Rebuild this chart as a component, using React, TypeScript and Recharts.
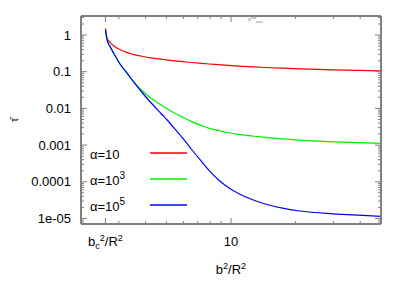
import React from "react";
import { LineChart, Line, XAxis, YAxis, Legend } from "recharts";

// b^2/R^2 sample points (shared by all series)
const bSquared = [
  2.6, 2.645, 2.74, 2.84, 3.05, 3.29, 3.41, 3.8, 4.23, 4.72, 5.09, 5.43, 6.06,
  6.53, 7.29, 7.86, 8.76, 9.35, 10.42, 12.53, 14.44, 17.37, 20.9, 29.9, 39.2, 50,
];
// tau-bar for alpha = 10
const tauAlpha1 = [
  1.523, 0.813, 0.621, 0.511, 0.395, 0.331, 0.309, 0.268, 0.239, 0.219, 0.207,
  0.198, 0.186, 0.178, 0.168, 0.162, 0.155, 0.151, 0.145, 0.136, 0.13, 0.1245,
  0.12, 0.1127, 0.1085, 0.1045,
];
// tau-bar for alpha = 10^3
const tauAlpha3 = [
  1.368, 0.754, 0.471, 0.317, 0.157, 0.0887, 0.0673, 0.0327, 0.0192, 0.01238,
  0.00945, 0.00763, 0.00548, 0.00442, 0.0034, 0.0029, 0.0025, 0.002275, 0.00203,
  0.00177, 0.00162, 0.001475, 0.001368, 0.00123, 0.001162, 0.00112,
];
// tau-bar for alpha = 10^5
const tauAlpha5 = [
  1.368, 0.754, 0.471, 0.317, 0.157, 0.0887, 0.0673, 0.0298, 0.01448, 0.00726,
  0.00454, 0.00292, 0.001377, 0.000783, 0.000357, 0.00021, 0.0001119, 8.18e-5,
  5.44e-5, 3.29e-5, 2.48e-5, 1.909e-5, 1.601e-5, 1.343e-5, 1.23e-5, 1.148e-5,
];
const seriesNames = ["α=10", "α=10^3", "α=10^5"];
const seriesColors = ["#ff0000", "#00ee00", "#0000ff"];

const bcValue = 2.6;
const xMajorTicks = [bcValue, 10];
const xMinorTicks = [3, 4, 5, 6, 7, 8, 9, 20, 30, 40];
const yMajorTicks = [1e-5, 1e-4, 1e-3, 0.01, 0.1, 1];
const yMajorLabels = ["1e-05", "0.0001", "0.001", "0.01", "0.1", "1"];
const yMinorTicks = [
  8e-6, 9e-6,
  2e-5, 3e-5, 4e-5, 5e-5, 6e-5, 7e-5, 8e-5, 9e-5,
  2e-4, 3e-4, 4e-4, 5e-4, 6e-4, 7e-4, 8e-4, 9e-4,
  2e-3, 3e-3, 4e-3, 5e-3, 6e-3, 7e-3, 8e-3, 9e-3,
  0.02, 0.03, 0.04, 0.05, 0.06, 0.07, 0.08, 0.09,
  0.2, 0.3, 0.4, 0.5, 0.6, 0.7, 0.8, 0.9,
  2, 3,
];

const xDomain = [2, 50];
const yDomain = [Math.pow(10, -5.15), Math.pow(10, 0.518)];

const data = bSquared.map((x, i) => ({
  x,
  a1: tauAlpha1[i],
  a3: tauAlpha3[i],
  a5: tauAlpha5[i],
}));

const FONT = "'Liberation Sans', Arial, sans-serif";
const GREY = "#808080";
const MAJOR = 6;
const MINOR = 3;
const isMajor = (v: number, majors: number[]) =>
  majors.some((m) => Math.abs(m - v) / m < 1e-6);

const BottomTick = (props: any) => {
  const { x, y, payload } = props;
  const v = payload.value;
  const major = isMajor(v, xMajorTicks);
  return (
    <g>
      <line x1={x} x2={x} y1={y} y2={y - (major ? MAJOR : MINOR)} stroke={GREY} strokeWidth={1} />
      {major && Math.abs(v - bcValue) < 1e-6 && (
        <text x={x} y={y + 17} dy="0.35em" textAnchor="middle" fontSize={13} fontFamily={FONT} fill="#000">
          b<tspan dy={3} fontSize={9}>c</tspan>
          <tspan dy={-8} fontSize={9}>2</tspan>
          <tspan dy={5} fontSize={13}>/R</tspan>
          <tspan dy={-5} fontSize={9}>2</tspan>
        </text>
      )}
      {major && Math.abs(v - 10) < 1e-6 && (
        <text x={x} y={y + 17} dy="0.35em" textAnchor="middle" fontSize={13} fontFamily={FONT} fill="#000">
          10
        </text>
      )}
    </g>
  );
};

const TopTick = (props: any) => {
  const { x, y, payload } = props;
  const major = isMajor(payload.value, xMajorTicks);
  return <line x1={x} x2={x} y1={y} y2={y + (major ? MAJOR : MINOR)} stroke={GREY} strokeWidth={1} />;
};

const LeftTick = (props: any) => {
  const { x, y, payload } = props;
  const v = payload.value;
  const idx = yMajorTicks.findIndex((m) => Math.abs(m - v) / m < 1e-6);
  const major = idx >= 0;
  return (
    <g>
      <line x1={x} x2={x + (major ? MAJOR : MINOR)} y1={y} y2={y} stroke={GREY} strokeWidth={1} />
      {major && (
        <text x={x - 10} y={y} dy="0.35em" textAnchor="end" fontSize={13} fontFamily={FONT} fill="#000">
          {yMajorLabels[idx]}
        </text>
      )}
    </g>
  );
};

const RightTick = (props: any) => {
  const { x, y, payload } = props;
  const major = isMajor(payload.value, yMajorTicks);
  return <line x1={x} x2={x - (major ? MAJOR : MINOR)} y1={y} y2={y} stroke={GREY} strokeWidth={1} />;
};

const LegendContent = (props: any) => {
  const payload = props.payload || [];
  return (
    <svg width={110} height={76} style={{ display: "block", overflow: "visible" }}>
      {payload.map((p: any, i: number) => {
        const cy = 10 + i * 26;
        const [base, exp] = String(p.value).split("^");
        return (
          <g key={i}>
            <text x={0} y={cy + 1} dy="0.35em" fontSize={13} fontFamily={FONT} fill="#000">
              {base}
              {exp && (
                <tspan dy={-6} fontSize={10}>
                  {exp}
                </tspan>
              )}
            </text>
            <line x1={60} x2={97} y1={cy} y2={cy} stroke={p.color} strokeWidth={1.3} />
          </g>
        );
      })}
    </svg>
  );
};

const YLabel = (props: any) => {
  const vb = props.viewBox || { x: 0, y: 0, height: 0 };
  const cx = vb.x + 6;
  const cy = vb.y + vb.height / 2;
  return (
    <text x={cx} y={cy} textAnchor="middle" dy="0.35em" fontSize={10} fontFamily={FONT} fill="#000" transform={`rotate(-90 ${cx} ${cy})`}>
      τ̄
    </text>
  );
};

const XLabel = (props: any) => {
  const vb = props.viewBox || { x: 0, y: 0, width: 0, height: 0 };
  const cx = vb.x + vb.width / 2;
  const cy = vb.y + 45;
  return (
    <text x={cx} y={cy} textAnchor="middle" dy="0.35em" fontSize={13} fontFamily={FONT} fill="#000">
      b<tspan dy={-5} fontSize={9}>2</tspan>
      <tspan dy={5} fontSize={13}>/R</tspan>
      <tspan dy={-5} fontSize={9}>2</tspan>
    </text>
  );
};

const TitleLabel = (props: any) => {
  const vb = props.viewBox || { x: 0, y: 0, width: 0, height: 0 };
  const x = vb.x + 167;
  const y = vb.y + vb.height + 5;
  return (
    <text x={x} y={y} fontSize={5.5} fontFamily={FONT} fill="#777">
      γ<tspan dy={-2} fontSize={4}>sat</tspan>
      <tspan dy={4} fontSize={4}>aaa</tspan>
    </text>
  );
};

export default function App() {
  return (
    <LineChart width={383} height={270} data={data} margin={{ top: 0, right: 0, bottom: 0, left: 0 }}>
      <XAxis
        xAxisId="bottom"
        dataKey="x"
        type="number"
        scale="log"
        domain={xDomain}
        allowDataOverflow
        ticks={[...xMajorTicks, ...xMinorTicks]}
        interval={0}
        tickSize={0}
        tickMargin={0}
        tick={BottomTick}
        tickLine={false}
        axisLine={{ stroke: GREY, strokeWidth: 2 }}
        height={54}
        label={{ content: XLabel }}
      />
      <XAxis
        xAxisId="top"
        orientation="top"
        dataKey="x"
        type="number"
        scale="log"
        domain={xDomain}
        allowDataOverflow
        ticks={[...xMajorTicks, ...xMinorTicks]}
        interval={0}
        tickSize={0}
        tickMargin={0}
        tick={TopTick}
        tickLine={false}
        axisLine={{ stroke: GREY, strokeWidth: 2 }}
        height={8}
        label={{ content: TitleLabel }}
      />
      <YAxis
        yAxisId="left"
        type="number"
        scale="log"
        domain={yDomain}
        allowDataOverflow
        ticks={[...yMajorTicks, ...yMinorTicks]}
        interval={0}
        tickSize={0}
        tickMargin={0}
        tick={LeftTick}
        tickLine={false}
        axisLine={{ stroke: GREY, strokeWidth: 2 }}
        width={73}
        label={{ content: YLabel }}
      />
      <YAxis
        yAxisId="right"
        orientation="right"
        type="number"
        scale="log"
        domain={yDomain}
        allowDataOverflow
        ticks={[...yMajorTicks, ...yMinorTicks]}
        interval={0}
        tickSize={0}
        tickMargin={0}
        tick={RightTick}
        tickLine={false}
        axisLine={{ stroke: GREY, strokeWidth: 2 }}
        width={10}
      />
      <Legend
        layout="vertical"
        align="center"
        verticalAlign="middle"
        content={LegendContent}
        wrapperStyle={{ position: "absolute", left: 82, top: 135, width: 110, height: 76 }}
      />
      <Line xAxisId="bottom" yAxisId="left" dataKey="a1" name={seriesNames[0]} stroke={seriesColors[0]} strokeWidth={1.2} dot={false} type="monotone" isAnimationActive={false} />
      <Line xAxisId="bottom" yAxisId="left" dataKey="a3" name={seriesNames[1]} stroke={seriesColors[1]} strokeWidth={1.2} dot={false} type="monotone" isAnimationActive={false} />
      <Line xAxisId="bottom" yAxisId="left" dataKey="a5" name={seriesNames[2]} stroke={seriesColors[2]} strokeWidth={1.2} dot={false} type="monotone" isAnimationActive={false} />
    </LineChart>
  );
}
